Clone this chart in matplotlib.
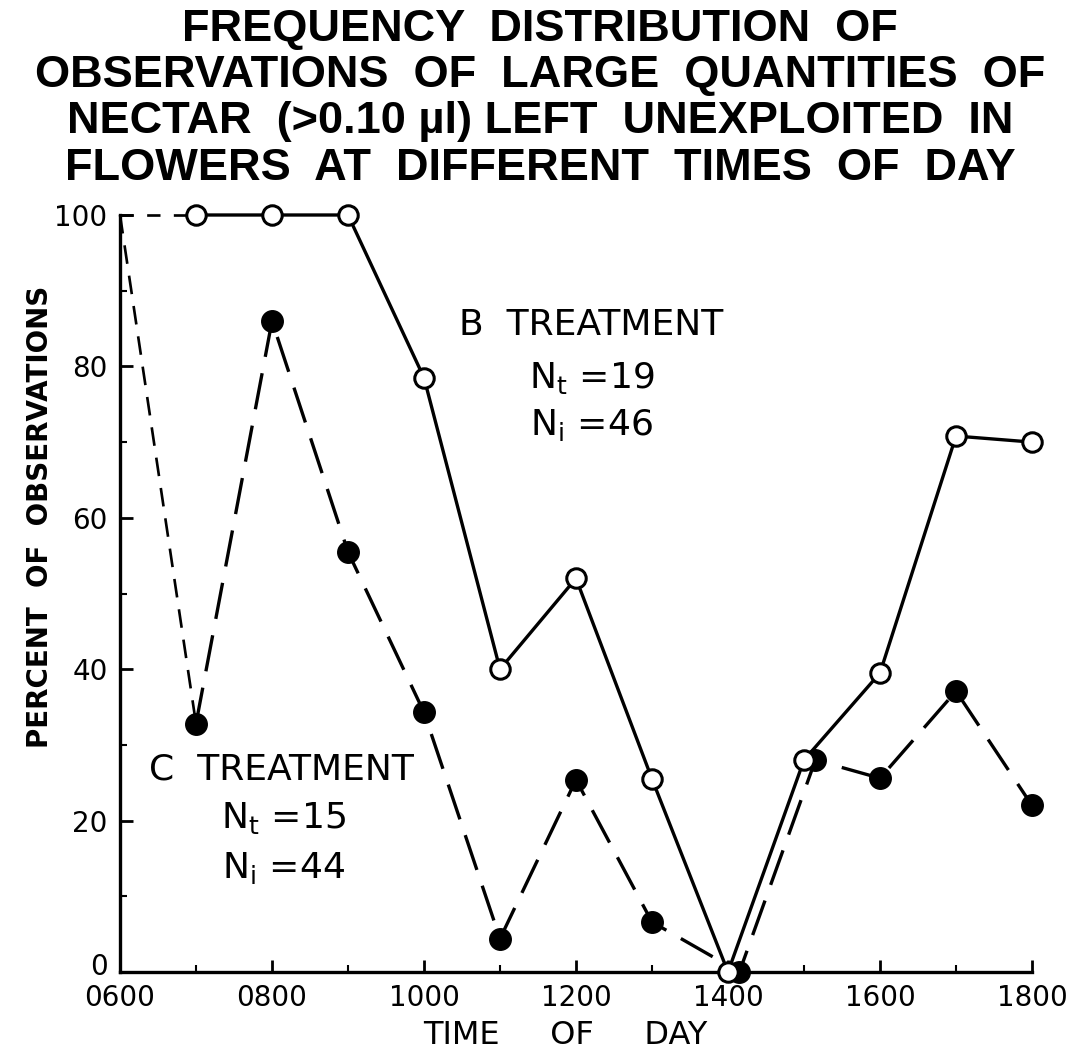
import matplotlib
matplotlib.use("Agg")
import matplotlib.pyplot as plt
from matplotlib.ticker import MultipleLocator, FixedLocator
from matplotlib.transforms import ScaledTranslation
from matplotlib import font_manager

# ---- data ----
hours_b = [6, 7, 8, 9, 10, 11, 12, 13, 14, 15, 16, 17, 18]
pct_b = [100, 100, 100, 100, 78.5, 40, 52, 25.5, 0, 28, 39.5, 70.8, 70]
hours_c = [6, 7, 8, 9, 10, 11, 12, 13, 14.15, 15.15, 16, 17, 18]
pct_c = [100, 32.8, 86, 55.5, 34.3, 4.4, 25.4, 6.6, 0, 28, 25.6, 37.1, 22]
xtick_vals = [6, 8, 10, 12, 14, 16, 18]
xtick_labels = ["0600", "0800", "1000", "1200", "1400", "1600", "1800"]
ytick_vals = [0, 20, 40, 60, 80, 100]
ytick_labels = ["0", "20", "40", "60", "80", "100"]
title_lines = ["FREQUENCY  DISTRIBUTION  OF",
               "OBSERVATIONS  OF  LARGE  QUANTITIES  OF",
               "NECTAR  (>0.10 \u00b5l) LEFT  UNEXPLOITED  IN",
               "FLOWERS  AT  DIFFERENT  TIMES  OF  DAY"]

plt.rcParams['font.family'] = ['DejaVu Sans']
installed = {f.name for f in font_manager.fontManager.ttflist}
title_family = 'Liberation Sans Narrow' if 'Liberation Sans Narrow' in installed else 'Liberation Sans'
title_size = 37 if title_family == 'Liberation Sans Narrow' else 32.5

fig = plt.figure(figsize=(10.79, 10.56), dpi=100)
ax = fig.add_axes([120/1079, 84/1056, (1032-120)/1079, (972-215)/1056])

lw = 2.4
# B treatment: dashed lead-in from 0600, then solid
ax.plot(hours_b[:2], pct_b[:2], color='black', lw=lw*0.8, dashes=(5, 5), zorder=2, clip_on=False)
ax.plot(hours_b[1:], pct_b[1:], color='black', lw=lw, zorder=2, clip_on=False)
ax.plot(hours_b[1:], pct_b[1:], ls='none', marker='o', ms=14, mfc='white', mec='black',
        mew=2.2, zorder=4, clip_on=False)

# C treatment: dashed
ax.plot(hours_c[:2], pct_c[:2], color='black', lw=lw*0.8, dashes=(7, 4.5), zorder=2, clip_on=False)
ax.plot(hours_c[1:], pct_c[1:], color='black', lw=lw, dashes=(11, 5), zorder=2, clip_on=False)
ax.plot(hours_c[1:], pct_c[1:], ls='none', marker='o', ms=15.5, mfc='black', mec='black',
        zorder=3, clip_on=False)

ax.set_xlim(6, 18)
ax.set_ylim(0, 100)
for s in ['top', 'right']:
    ax.spines[s].set_visible(False)
for s in ['left', 'bottom']:
    ax.spines[s].set_linewidth(2.4)

ax.xaxis.set_major_locator(FixedLocator(xtick_vals))
ax.set_xticklabels(xtick_labels)
ax.xaxis.set_minor_locator(MultipleLocator(1))
ax.yaxis.set_major_locator(FixedLocator(ytick_vals))
ax.set_yticklabels(ytick_labels)
ax.yaxis.set_minor_locator(MultipleLocator(10))
ax.tick_params(which='major', direction='in', length=9, width=2, labelsize=20, pad=9)
ax.tick_params(which='minor', direction='in', length=5, width=1.5)

# nudge the "0" y tick label upward, as in the reference
zero_lab = ax.yaxis.get_major_ticks()[0].label1
zero_lab.set_transform(zero_lab.get_transform() + ScaledTranslation(0, 8/100, fig.dpi_scale_trans))

fig.text(565/1079, 1 - 1036/1056, "TIME     OF     DAY", fontsize=23, ha='center', va='center')
fig.text(40/1079, 1 - 517/1056, "PERCENT  OF  OBSERVATIONS", fontsize=20, fontweight='bold',
         rotation=90, ha='center', va='center')

# annotations
ax.text(12.2, 85.5, "B  TREATMENT", fontsize=26, ha='center', va='center')
ax.text(12.2, 78.5, r"N$_\mathregular{t}$ =19", fontsize=26, ha='center', va='center')
ax.text(12.2, 72.3, r"N$_\mathregular{i}$ =46", fontsize=26, ha='center', va='center')
ax.text(8.13, 26.7, "C  TREATMENT", fontsize=26, ha='center', va='center')
ax.text(8.15, 20.3, r"N$_\mathregular{t}$ =15", fontsize=26, ha='center', va='center')
ax.text(8.15, 13.7, r"N$_\mathregular{i}$ =44", fontsize=26, ha='center', va='center')

# title
ys = [30, 76, 122, 168]
for t, y in zip(title_lines, ys):
    fig.text(540/1079, 1 - y/1056, t, fontsize=title_size, fontweight='bold', ha='center',
             va='center', family=[title_family, 'DejaVu Sans'])

fig.savefig("out.png", dpi=100)
